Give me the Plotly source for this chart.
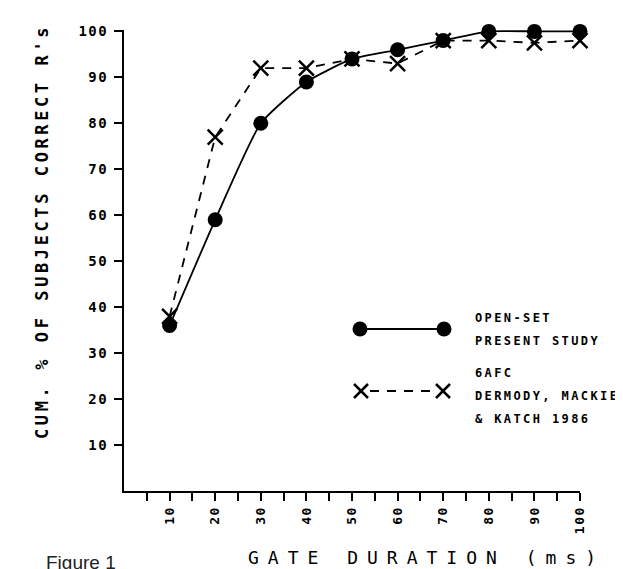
import plotly.graph_objects as go

# ---- data ----
gate_ms = [10, 20, 30, 40, 50, 60, 70, 80, 90, 100]
open_set = [36, 59, 80, 89, 94, 96, 98, 100, 100, 100]
afc6 = [38, 77, 92, 92, 94, 93, 98, 98, 97.5, 98]
x_ticks = [10, 20, 30, 40, 50, 60, 70, 80, 90, 100]
x_minor = [5, 15, 25, 35, 45, 55, 65, 75, 85, 95]
y_ticks = [10, 20, 30, 40, 50, 60, 70, 80, 90, 100]

W, H = 623, 569
L, R, T, B = 116, 51, 22, 86
MONO = "DejaVu Sans Mono"

def sp(text, ls):
    return f'<span style="letter-spacing:{ls}px">{text}</span>'

fig = go.Figure()
fig.add_trace(go.Scatter(
    x=gate_ms, y=open_set, mode="lines+markers", cliponaxis=False,
    line=dict(color="black", width=1.8, shape="spline", smoothing=0.5),
    marker=dict(symbol="circle", size=15, color="black"),
    showlegend=False))
fig.add_trace(go.Scatter(
    x=gate_ms, y=afc6, mode="lines+markers", cliponaxis=False,
    line=dict(color="black", width=1.8, dash="9px,8px"),
    marker=dict(symbol="x-thin", size=15, color="black",
                line=dict(color="black", width=2.5)),
    showlegend=False))

# pixel -> paper helpers for decorations (legend, titles)
pw, ph = W - L - R, H - T - B
def px(x):
    return (x - L) / pw
def py(y):
    return (H - B - y) / ph

shapes = []
# legend: open-set
ly1 = 321
shapes.append(dict(type="line", xref="paper", yref="paper", x0=px(352), x1=px(436),
                   y0=py(ly1), y1=py(ly1), line=dict(color="black", width=1.8)))
for cx in (352, 436):
    shapes.append(dict(type="circle", xref="paper", yref="paper", x0=px(cx - 7.5), x1=px(cx + 7.5),
                       y0=py(ly1 + 7.5), y1=py(ly1 - 7.5), fillcolor="black",
                       line=dict(color="black", width=0)))
# legend: 6AFC
ly2 = 383
shapes.append(dict(type="line", xref="paper", yref="paper", x0=px(362), x1=px(426),
                   y0=py(ly2), y1=py(ly2), line=dict(color="black", width=1.8, dash="9px,8px")))
for cx in (353, 435):
    for s in (1, -1):
        shapes.append(dict(type="line", xref="paper", yref="paper",
                           x0=px(cx - 7), x1=px(cx + 7), y0=py(ly2 - 7 * s), y1=py(ly2 + 7 * s),
                           line=dict(color="black", width=2.5)))

ann = []
leg_font = dict(family=MONO, size=12, color="black", weight="bold")
for txt, yy in [("OPEN-SET", 310), ("PRESENT STUDY", 333), ("6AFC", 365),
                ("DERMODY, MACKIE", 388), ("&amp; KATCH 1986", 411)]:
    ann.append(dict(text=sp(txt, 2.4), xref="paper", yref="paper", x=px(465), y=py(yy),
                    xanchor="left", yanchor="middle", showarrow=False, font=leg_font))

ann.append(dict(text=sp("CUM. % OF SUBJECTS CORRECT R's", 3.6), xref="paper", yref="paper",
                x=px(34), y=py(224), textangle=-90, showarrow=False,
                xanchor="center", yanchor="middle",
                font=dict(family=MONO, size=17, color="black", weight="bold")))
ann.append(dict(text=sp("GATE DURATION (ms)", 9), xref="paper", yref="paper",
                x=px(418), y=py(549), showarrow=False, xanchor="center", yanchor="middle",
                font=dict(family=MONO, size=18, color="black")))
ann.append(dict(text="Figure 1", xref="paper", yref="paper",
                x=px(36), y=py(542), showarrow=False, xanchor="left", yanchor="top",
                font=dict(family="Liberation Sans", size=19, color="#222222")))

fig.update_layout(
    width=W, height=H, margin=dict(l=L, r=R, t=T, b=B, pad=0),
    paper_bgcolor="white", plot_bgcolor="white",
    shapes=shapes, annotations=ann,
    xaxis=dict(range=[0, 100], showgrid=False, zeroline=False,
               showline=True, linecolor="black", linewidth=2,
               ticks="outside", ticklen=8, tickwidth=1.5, tickcolor="black",
               tickvals=x_ticks, ticktext=[sp(str(v), 1.5) for v in x_ticks], tickangle=-90,
               tickfont=dict(family=MONO, size=13, color="black", weight="bold"),
               minor=dict(ticks="outside", ticklen=8, tickwidth=1.5, tickcolor="black",
                          tickvals=x_minor, showgrid=False)),
    yaxis=dict(range=[0, 100.3], showgrid=False, zeroline=False,
               showline=True, linecolor="black", linewidth=2,
               ticks="outside", ticklen=8, tickwidth=1.5, tickcolor="black",
               ticklabelstandoff=3,
               tickvals=y_ticks, ticktext=[sp(str(v), 1.5) for v in y_ticks],
               tickfont=dict(family=MONO, size=14, color="black", weight="bold")),
)

fig.write_html("out.html")
